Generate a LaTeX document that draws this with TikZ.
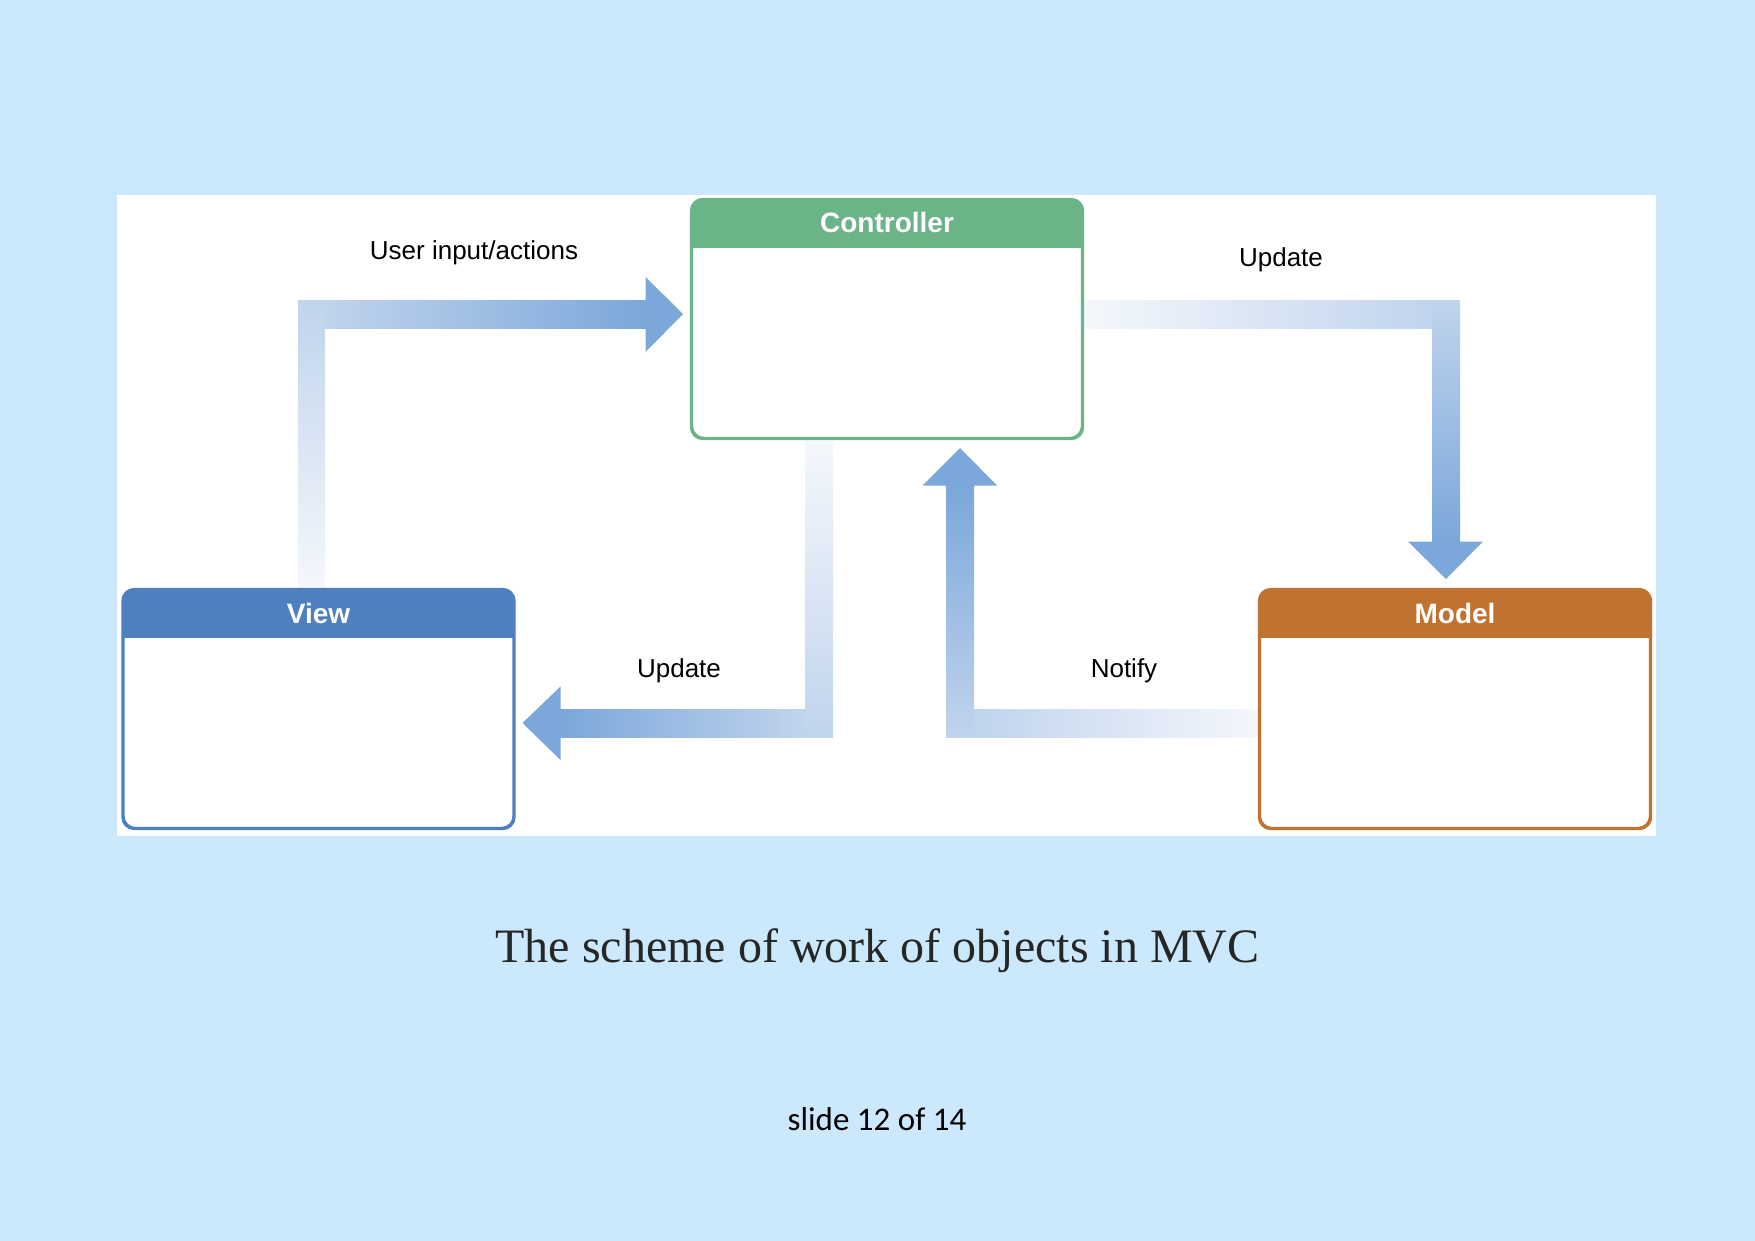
\documentclass[tikz,border=0pt]{standalone}
\usepackage{fontspec}
\usetikzlibrary{calc}
\setmainfont{Liberation Serif}
\setsansfont{Liberation Sans}
\newfontfamily\calibfont{Carlito}
\definecolor{bg}{RGB}{204,232,253}
\definecolor{ctrlc}{RGB}{106,180,136}
\definecolor{viewc}{RGB}{78,127,192}
\definecolor{modelc}{RGB}{192,114,48}
\definecolor{arrD}{RGB}{123,167,218}
\definecolor{arrM}{RGB}{192,212,237}
\definecolor{arrL}{RGB}{245,248,252}
\definecolor{captc}{RGB}{38,38,38}
\tikzset{
  mvcbox/.style={draw=#1, line width=2.2pt, rounded corners=12pt, fill=white, minimum width=390pt, minimum height=238pt, inner sep=0pt},
  headtext/.style={text=white, font=\sffamily\bfseries\fontsize{28}{31}\selectfont, anchor=base},
  lbl/.style={text=black, font=\sffamily\fontsize{26}{30}\selectfont, anchor=base},
}
\begin{document}
\begin{tikzpicture}[x=1pt,y=-1pt]
\fill[bg] (0,0) rectangle (1755,1241);
\useasboundingbox (0,0) rectangle (1755,1241);
\fill[white] (117,195) rectangle (1656,836);

% arrow 1: View -> Controller
\shade[bottom color=arrL, top color=arrM] (298,300) rectangle (325,590);
\shade[left color=arrM, right color=arrD] (325,300) rectangle (646,328);
\fill[arrD] (645.5,277) -- (683,314) -- (645.5,352) -- cycle;
\node[lbl] (l1) at (474,259.3) {User input/actions};

% arrow 2: Controller -> Model
\shade[left color=arrL, right color=arrM] (1080,300) rectangle (1432,328);
\shade[top color=arrM, bottom color=arrD] (1432,300) rectangle (1460,542);
\fill[arrD] (1408,541.5) -- (1483,541.5) -- (1446,579) -- cycle;
\node[lbl] (l2) at (1281,266) {Update};

% arrow 3: Controller -> View
\shade[top color=arrL, bottom color=arrM] (805,441) rectangle (833,737);
\shade[left color=arrD, right color=arrM] (560,709) rectangle (805,737);
\fill[arrD] (560.5,686.5) -- (560.5,760) -- (522.5,723) -- cycle;
\node[lbl] (l3) at (679,677.5) {Update};

% arrow 4: Model -> Controller
\shade[left color=arrM, right color=arrL] (974,709) rectangle (1262,737);
\shade[bottom color=arrM, top color=arrD] (946,485) rectangle (974,737);
\fill[arrD] (922.5,485.5) -- (997,485.5) -- (960,448) -- cycle;
\node[lbl] (l4) at (1124,677) {Notify};

% boxes
\node[mvcbox=ctrlc] (ctrl) at (887,319) {};
\node[mvcbox=viewc] (view) at (318.5,709) {};
\node[mvcbox=modelc] (model) at (1455,709) {};
\foreach \n/\c in {ctrl/ctrlc, view/viewc, model/modelc}{
  \fill[\c] ($(\n.north west)+(0,49)$) [rounded corners=12pt] -- (\n.north west) -- (\n.north east) [sharp corners] -- ($(\n.north east)+(0,49)$) -- cycle;
  \draw[\c, line width=2.2pt, rounded corners=12pt] (\n.north west) rectangle (\n.south east);
}
\node[headtext] (ctrlT) at (887,232.7) {Controller};
\node[headtext] (viewT) at (318.5,623.3) {View};
\node[headtext] (modelT) at (1455,623.3) {Model};

% caption
\node[anchor=base, text=captc, font=\fontsize{48}{56}\selectfont] (cap) at (877.5,962.6) {The scheme of work of objects in MVC};
\node[anchor=base, text=black, font=\calibfont\fontsize{33}{38}\selectfont] (slide) at (877,1130) {slide 12 of 14};
\end{tikzpicture}
\end{document}
